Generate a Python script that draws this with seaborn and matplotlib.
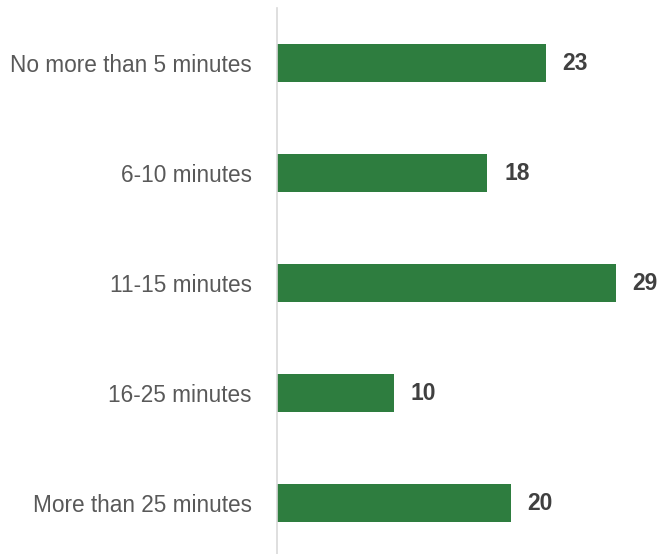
import matplotlib
matplotlib.use("Agg")
import matplotlib.pyplot as plt
import seaborn as sns
import pandas as pd

categories = ["No more than 5 minutes", "6-10 minutes", "11-15 minutes",
              "16-25 minutes", "More than 25 minutes"]
values = [23, 18, 29, 10, 20]

sns.set_theme(style="white")
plt.rcParams['font.family'] = ['Liberation Sans', 'DejaVu Sans']

df = pd.DataFrame({"cat": categories, "val": values})

fig = plt.figure(figsize=(6.57, 5.54), dpi=100)
ax = fig.add_axes([277/657, 0, 1 - 277/657, 1 - 8/554])
sns.barplot(data=df, x="val", y="cat", orient="h", color="#2E7D3F",
            width=0.35, saturation=1, linewidth=0, ax=ax)
ax.set_xlim(0, (657 - 277) / 11.68)
ax.set_ylim(-0.5 + 546/110, -0.5)
for sp in ["top", "right", "bottom"]:
    ax.spines[sp].set_visible(False)
ax.spines["left"].set_color("#D9D9D9")
ax.spines["left"].set_linewidth(1.2)
ax.set_xticks([])
ax.set_xlabel("")
ax.set_ylabel("")
ax.tick_params(axis="y", length=0, pad=18, labelsize=16.3, labelcolor="#595959")
for i, v in enumerate(values):
    ax.text(v + 1.45, i, str(v), va="center", ha="left", fontsize=16.5,
            fontweight="bold", color="#404040")
fig.savefig("out.png", dpi=100)
